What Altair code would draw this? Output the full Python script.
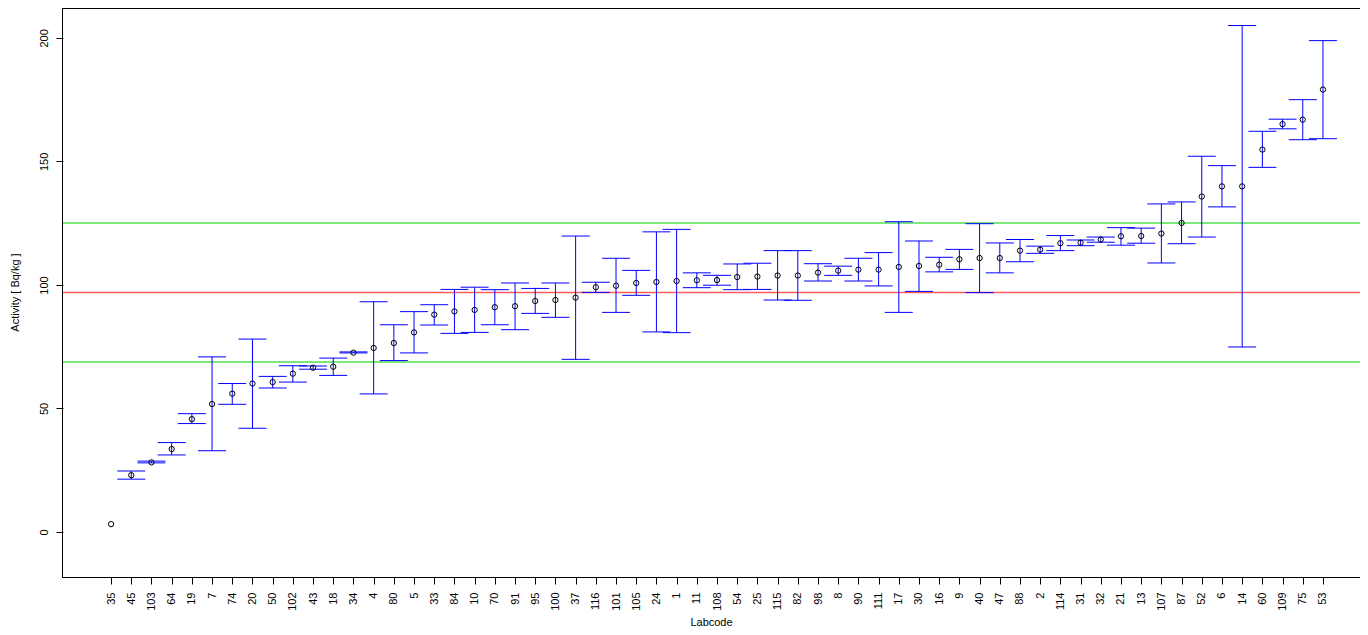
import json
import altair as alt
import pandas as pd

labels = ["35", "45", "103", "64", "19", "7", "74", "20", "50", "102", "43", "18", "34", "4", "80",
          "5", "33", "84", "10", "70", "91", "95", "100", "37", "116", "101", "105", "24", "1", "11",
          "108", "54", "25", "115", "82", "98", "8", "90", "111", "17", "30", "16", "9", "40", "47",
          "88", "2", "114", "31", "32", "21", "13", "107", "87", "52", "6", "14", "60", "109", "75", "53"]

values = [3.2, 23.0, 28.2, 33.6, 45.7, 51.8, 56.0, 60.1, 60.7, 64.1,
          66.5, 66.9, 72.6, 74.5, 76.5, 80.8, 88.0, 89.3, 89.9, 91.0,
          91.4, 93.5, 93.9, 94.9, 99.1, 99.7, 100.8, 101.2, 101.6, 101.9,
          102.0, 103.2, 103.4, 103.8, 103.8, 105.0, 105.8, 106.2, 106.2, 107.3,
          107.7, 108.2, 110.4, 110.9, 110.9, 113.9, 114.3, 116.9, 117.1, 118.4,
          119.7, 119.8, 120.8, 125.1, 135.8, 139.9, 139.9, 154.8, 165.1, 166.9,
          179.1]

lower = [None, 21.4, 28.0, 31.2, 43.9, 32.9, 51.7, 42.0, 58.3, 60.7,
         65.9, 63.4, 72.5, 55.9, 69.4, 72.5, 83.8, 80.4, 80.8, 83.9,
         81.9, 88.5, 86.9, 69.9, 97.0, 88.9, 95.8, 81.0, 80.7, 98.9,
         99.9, 98.1, 98.2, 93.9, 93.8, 101.6, 103.9, 101.6, 99.6, 88.9,
         97.4, 105.3, 106.3, 96.9, 104.9, 109.4, 112.8, 113.9, 115.9, 117.3,
         116.1, 116.9, 108.9, 116.7, 119.4, 131.6, 74.9, 147.6, 163.2, 158.8,
         159.2]

upper = [None, 24.7, 28.7, 36.2, 47.9, 70.9, 60.1, 78.1, 63.0, 67.3,
         67.2, 70.4, 72.9, 93.2, 83.9, 89.2, 92.0, 98.2, 99.1, 98.1,
         100.8, 98.6, 100.8, 119.8, 101.1, 110.8, 105.9, 121.5, 122.5, 104.9,
         103.9, 108.5, 108.8, 113.9, 113.9, 108.6, 107.6, 110.8, 113.1, 125.6,
         117.8, 111.2, 114.4, 124.8, 117.0, 118.4, 115.7, 120.0, 118.2, 119.4,
         123.2, 123.0, 132.8, 133.6, 152.1, 148.3, 205.0, 162.2, 167.1, 175.0,
         198.9]

ref_value = [96.9]
limits = [68.8, 125.1]

FONT = "Liberation Sans"

df = pd.DataFrame({
    "idx": list(range(len(labels))),
    "lab": labels,
    "value": values,
    "lo": lower,
    "hi": upper,
})

label_expr = json.dumps(labels) + "[datum.value]"

xscale = alt.Scale(domain=[-2.38, 62.23], nice=False, zero=False)
yscale = alt.Scale(domain=[-18.2, 212.1], nice=False, zero=False)

xaxis = alt.Axis(
    values=list(range(len(labels))), labelExpr=label_expr, title="Labcode",
    labelAngle=270, labelAlign="right", labelBaseline="middle",
    tickSize=7, labelPadding=8, domain=False, grid=False,
    labelFont=FONT, labelFontSize=11, labelColor="black", tickColor="black",
    titleFont=FONT, titleFontSize=11, titleFontWeight="normal", titleColor="black",
    titleX=648, titleY=45, titleBaseline="middle", labelOverlap=False, labelFlush=False,
)
yaxis = alt.Axis(
    values=[0, 50, 100, 150, 200], title="Activity [ Bq/kg ]",
    labelAngle=270, labelAlign="center", labelBaseline="bottom",
    tickSize=7, labelPadding=7, domain=False, grid=False,
    labelFont=FONT, labelFontSize=11, labelColor="black", tickColor="black",
    titleFont=FONT, titleFontSize=11, titleFontWeight="normal", titleColor="black",
    titleAngle=270, titleAlign="center", titleBaseline="middle",
    titleX=-48, titleY=284,
)

X = lambda f: alt.X(f, scale=xscale, axis=xaxis)
Y = lambda f: alt.Y(f, scale=yscale, axis=yaxis)

base = alt.Chart(df)

bars = base.transform_filter("isValid(datum.lo)").mark_rule(color="#0000ff", strokeWidth=1).encode(
    x=X("idx:Q"),
    y=Y("lo:Q"),
    y2="hi:Q",
)

cap_lo = base.transform_filter("isValid(datum.lo)").mark_rule(
    color="#0000ff", strokeWidth=1, xOffset=-14, x2Offset=14
).encode(
    x=X("idx:Q"),
    x2="idx:Q",
    y=Y("lo:Q"),
)

cap_hi = base.transform_filter("isValid(datum.hi)").mark_rule(
    color="#0000ff", strokeWidth=1, xOffset=-14, x2Offset=14
).encode(
    x=X("idx:Q"),
    x2="idx:Q",
    y=Y("hi:Q"),
)

points = base.mark_point(shape="circle", filled=False, color="black", size=28, strokeWidth=1, opacity=1).encode(
    x=X("idx:Q"),
    y=Y("value:Q"),
)

ref_line = alt.Chart(pd.DataFrame({"v": ref_value})).mark_rule(color="#ff5c5c", strokeWidth=1.5).encode(
    y=Y("v:Q")
)
lim_lines = alt.Chart(pd.DataFrame({"v": limits})).mark_rule(color="#4ee04e", strokeWidth=1.5).encode(
    y=Y("v:Q")
)

# plot frame (top, left, bottom); the right side runs past the page edge
frame_top = alt.Chart(df).mark_rule(color="black", strokeWidth=1).encode(
    y=alt.value(0.5), x=alt.value(-0.5), x2=alt.value(1320)
)
frame_bottom = alt.Chart(df).mark_rule(color="black", strokeWidth=1).encode(
    y=alt.value(569.5), x=alt.value(-0.5), x2=alt.value(1320)
)
frame_left = alt.Chart(df).mark_rule(color="black", strokeWidth=1).encode(
    x=alt.value(-0.5), y=alt.value(0), y2=alt.value(570)
)

chart = alt.layer(ref_line, lim_lines, bars, cap_lo, cap_hi, points,
                  frame_top, frame_bottom, frame_left).properties(
    width=1305, height=569,
    autosize=alt.AutoSizeParams(type="none"),
    padding={"left": 55, "top": 0, "right": -8, "bottom": 50},
    background="white",
).configure_view(stroke="transparent")

chart.save("out.html", embed_options={"renderer": "svg", "actions": False})
